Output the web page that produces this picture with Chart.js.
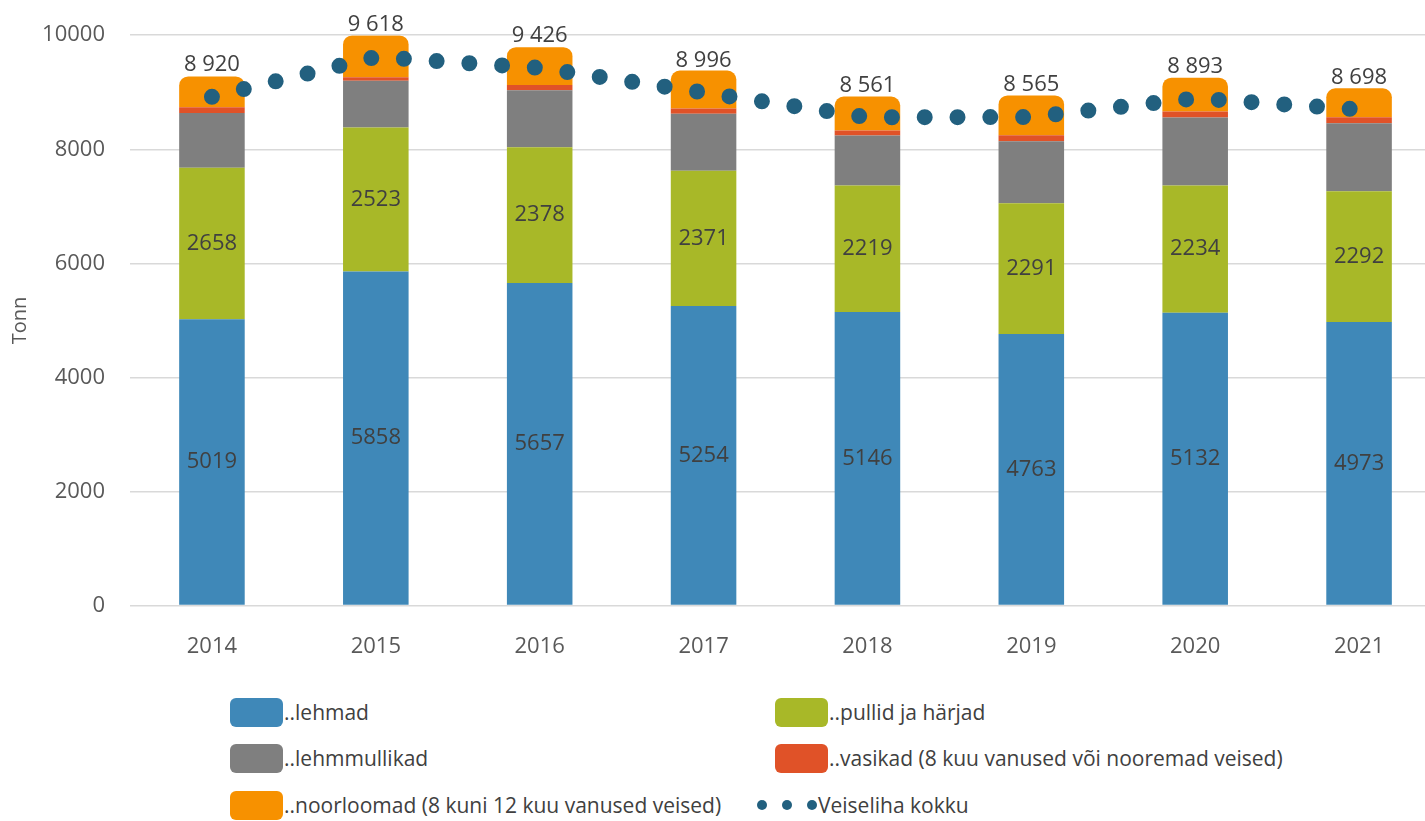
<!DOCTYPE html>
<html>
<head>
<meta charset="utf-8">
<script src="https://cdn.jsdelivr.net/npm/chart.js@4"></script>
<style>
  body { margin: 0; background: #fff; overflow: hidden; width: 1425px; height: 821px; position: relative; }
  #wrap { position: absolute; left: 0; top: 0; width: 1425px; height: 690px; overflow: hidden; }
  #veiselihaChart { position: absolute; left: 0; top: -3px; }
  .leg { position: absolute; font-family: "Open Sans", sans-serif; font-size: 21px; color: #404040; display: flex; align-items: center; height: 30px; white-space: nowrap; }
  .box { width: 53px; height: 29px; border-radius: 6px; margin-right: 1px; }
  .dot { width: 10px; height: 10px; border-radius: 50%; background: #22607f; margin-right: 15px; }
  .dot.last { margin-right: 1px; }
</style>
</head>
<body>
<div id="wrap"><canvas id="veiselihaChart" width="1445" height="693"></canvas></div>
<div id="legend"></div>
<script>
const years = ['2014', '2015', '2016', '2017', '2018', '2019', '2020', '2021'];
const lehmad = [5019, 5858, 5657, 5254, 5146, 4763, 5132, 4973];
const pullid = [2658, 2523, 2378, 2371, 2219, 2291, 2234, 2292];
const lehmmullikad = [960, 820, 1000, 1000, 875, 1085, 1190, 1190];
const vasikad = [100, 60, 90, 90, 90, 105, 105, 105];
const noorloomad = [540, 735, 665, 665, 595, 700, 595, 510];
const kokku = [8920, 9618, 9426, 8996, 8561, 8565, 8893, 8698];
const yTicks = [0, 2000, 4000, 6000, 8000, 10000];

const colors = {
  lehmad: '#3f88b8',
  pullid: '#a8b828',
  lehmmullikad: '#7f7f7f',
  vasikad: '#e05228',
  noorloomad: '#f79100',
  kokku: '#22607f'
};

const fmtTotal = v => String(v).replace(/\B(?=(\d{3})+(?!\d))/g, ' ');

// value labels inside the bars and above the total line
const valueLabels = {
  id: 'valueLabels',
  afterDatasetsDraw(chart) {
    const ctx = chart.ctx;
    ctx.save();
    ctx.font = '22px "Open Sans", sans-serif';
    ctx.fillStyle = '#404040';
    ctx.textAlign = 'center';
    ctx.textBaseline = 'middle';
    [0, 1].forEach(i => {
      chart.getDatasetMeta(i).data.forEach((el, j) => {
        ctx.fillText(chart.data.datasets[i].data[j], el.x, (el.y + el.base) / 2);
      });
    });
    const lineMeta = chart.getDatasetMeta(5);
    lineMeta.data.forEach((pt, j) => {
      ctx.fillText(fmtTotal(kokku[j]), pt.x, pt.y - 32);
    });
    ctx.restore();
  }
};

const barBase = { type: 'bar', stack: 'veised', order: 1, barPercentage: 0.8, categoryPercentage: 0.5 };

const veiselihaChart = new Chart(document.getElementById('veiselihaChart'), {
  data: {
    labels: years,
    datasets: [
      { ...barBase, label: '..lehmad', data: lehmad, backgroundColor: colors.lehmad },
      { ...barBase, label: '..pullid ja härjad', data: pullid, backgroundColor: colors.pullid },
      { ...barBase, label: '..lehmmullikad', data: lehmmullikad, backgroundColor: colors.lehmmullikad },
      { ...barBase, label: '..vasikad (8 kuu vanused või nooremad veised)', data: vasikad, backgroundColor: colors.vasikad },
      { ...barBase, label: '..noorloomad (8 kuni 12 kuu vanused veised)', data: noorloomad, backgroundColor: colors.noorloomad,
        borderRadius: { topLeft: 9, topRight: 9 }, borderSkipped: 'bottom' },
      {
        type: 'line', label: 'Veiseliha kokku', data: kokku, stack: 'kokku', order: 0,
        borderColor: colors.kokku, borderWidth: 16, borderDash: [0, 32.8], borderCapStyle: 'round',
        pointRadius: 0, fill: false, tension: 0
      }
    ]
  },
  options: {
    responsive: false,
    animation: false,
    devicePixelRatio: 1,
    layout: { padding: { top: 28, right: 4, bottom: 10, left: 0 } },
    scales: {
      x: {
        stacked: true,
        grid: { display: false },
        border: { display: false },
        ticks: { color: '#595959', font: { family: 'Open Sans', size: 22 }, padding: 20 }
      },
      y: {
        stacked: true,
        min: 0,
        max: 10000,
        afterBuildTicks: scale => { scale.ticks = yTicks.map(v => ({ value: v })); },
        afterFit: scale => { scale.width = 130; },
        grid: { color: '#d9d9d9', lineWidth: 1.5, drawTicks: false },
        border: { display: false },
        ticks: { color: '#595959', font: { family: 'Open Sans', size: 22 }, padding: 25, callback: v => String(v) },
        title: { display: true, text: 'Tonn', color: '#595959', font: { family: 'Open Sans', size: 20 }, padding: { top: 8, bottom: 0 } }
      }
    },
    plugins: {
      legend: { display: false },
      tooltip: { enabled: false }
    }
  },
  plugins: [valueLabels]
});

// legend laid out in two columns like the original
const legendItems = [
  { i: 0, left: 230, top: 697 },
  { i: 1, left: 775, top: 697 },
  { i: 2, left: 230, top: 743 },
  { i: 3, left: 775, top: 743 },
  { i: 4, left: 230, top: 790 }
];
const legend = document.getElementById('legend');
legendItems.forEach(item => {
  const ds = veiselihaChart.data.datasets[item.i];
  const div = document.createElement('div');
  div.className = 'leg';
  div.style.left = item.left + 'px';
  div.style.top = item.top + 'px';
  div.innerHTML = '<span class="box" style="background:' + ds.backgroundColor + '"></span><span>' + ds.label + '</span>';
  legend.appendChild(div);
});
const lineItem = document.createElement('div');
lineItem.className = 'leg';
lineItem.style.left = '757px';
lineItem.style.top = '790px';
lineItem.innerHTML = '<span class="dot"></span><span class="dot"></span><span class="dot last"></span><span>' +
  veiselihaChart.data.datasets[5].label + '</span>';
legend.appendChild(lineItem);
</script>
</body>
</html>
